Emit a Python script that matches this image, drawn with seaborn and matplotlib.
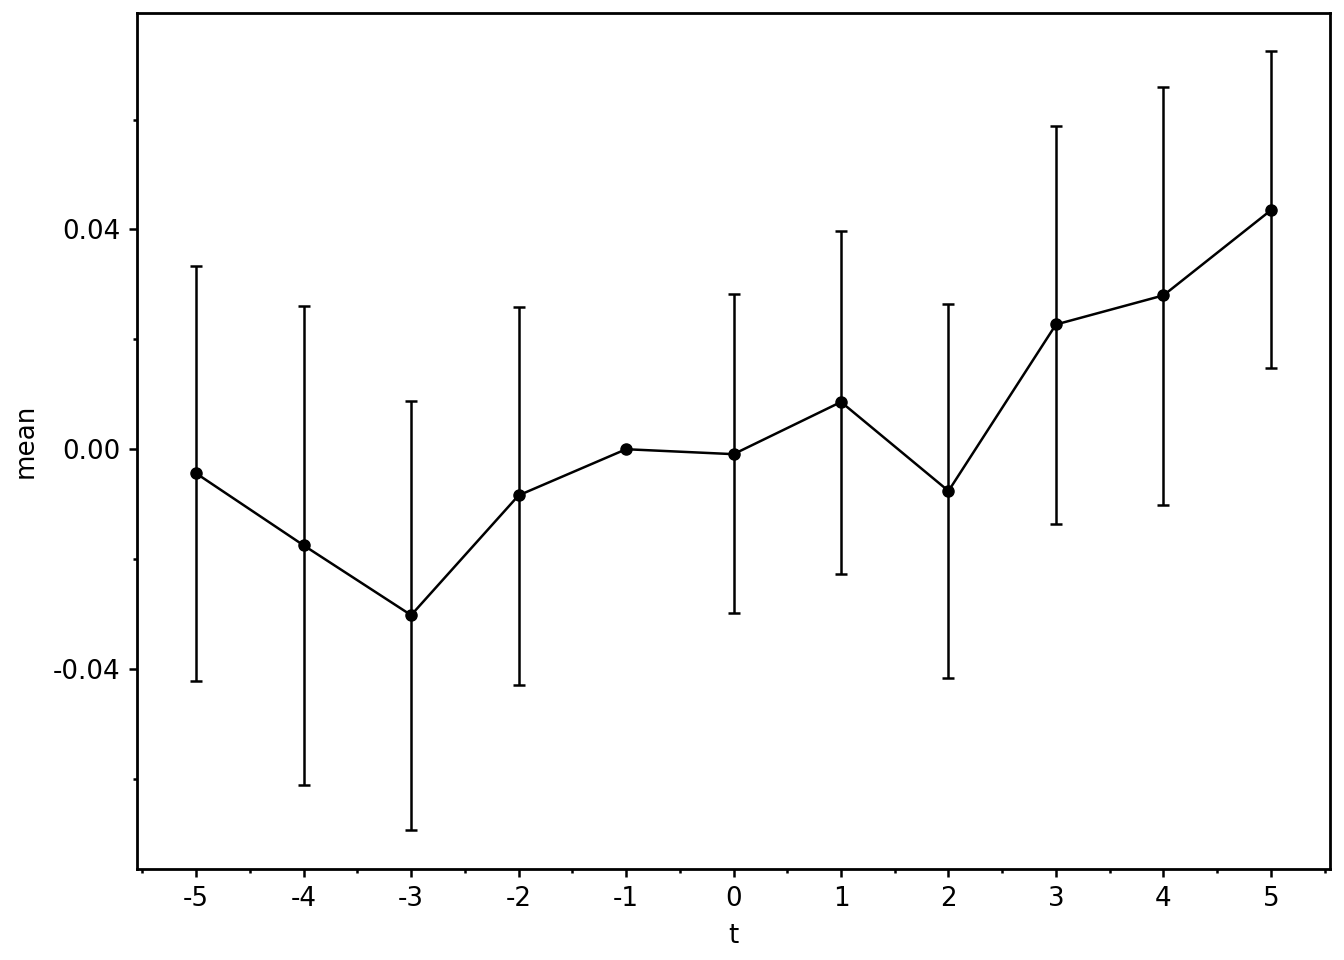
import matplotlib
matplotlib.use("Agg")
import matplotlib.pyplot as plt
import seaborn as sns
import numpy as np
import pandas as pd
from matplotlib.ticker import MultipleLocator

# event-time coefficients
t = [-5, -4, -3, -2, -1, 0, 1, 2, 3, 4, 5]
mean = [-0.0044, -0.0175, -0.0302, -0.0084, 0.0, -0.0009, 0.0086, -0.0076, 0.0227, 0.0280, 0.0435]
lower = [-0.0422, -0.0611, -0.0693, -0.0429, 0.0, -0.0298, -0.0227, -0.0416, -0.0136, -0.0102, 0.0147]
upper = [0.0333, 0.0260, 0.0087, 0.0258, 0.0, 0.0282, 0.0398, 0.0264, 0.0589, 0.0660, 0.0724]

df = pd.DataFrame({"t": t, "mean": mean, "lower": lower, "upper": upper})

sns.set_style("ticks")
plt.rcParams["axes.unicode_minus"] = False
fs = 9.4

fig, ax = plt.subplots(figsize=(6.72, 4.8), dpi=200)

# error bars (skip the reference period with zero width)
eb = df[df["upper"] > df["lower"]]
ax.errorbar(eb["t"], eb["mean"],
            yerr=[eb["mean"] - eb["lower"], eb["upper"] - eb["mean"]],
            fmt="none", ecolor="black", elinewidth=0.9, capsize=2, capthick=0.9)

sns.lineplot(data=df, x="t", y="mean", ax=ax, color="black", linewidth=0.9,
             marker="o", markersize=4, markeredgecolor="black", markeredgewidth=0.5)

ax.set_xlim(-5.55, 5.55)
ax.set_ylim(-0.0764, 0.0794)
ax.set_xticks(t)
ax.set_xticklabels([str(v) for v in t])
ax.xaxis.set_minor_locator(MultipleLocator(0.5))
ax.set_yticks([-0.04, 0.0, 0.04])
ax.set_yticklabels(["-0.04", "0.00", "0.04"])
ax.yaxis.set_minor_locator(MultipleLocator(0.02))
ax.tick_params(which="both", color="black", labelcolor="black", labelsize=fs, width=0.9)
ax.tick_params(which="major", length=3)
ax.tick_params(which="minor", length=1.5)
ax.tick_params(axis="x", which="major", pad=3)
ax.tick_params(axis="y", which="major", pad=3)
for s in ax.spines.values():
    s.set_visible(True)
    s.set_color("black")
    s.set_linewidth(1)
ax.set_xlabel("t", color="black", fontsize=fs, labelpad=4)
ax.set_ylabel("mean", color="black", fontsize=fs, labelpad=5)

fig.subplots_adjust(left=0.102, right=0.9896, top=0.9865, bottom=0.0948)
plt.savefig("out.png", dpi=200)
